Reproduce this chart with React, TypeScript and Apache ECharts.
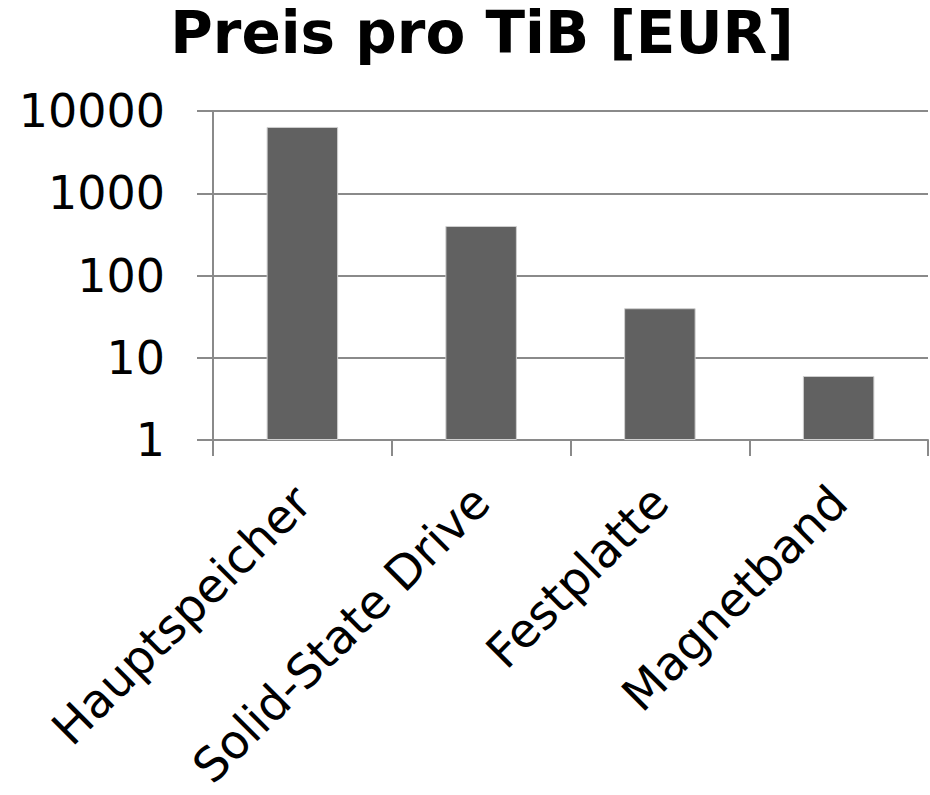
import React, { useEffect, useRef } from "react";
import * as echarts from "echarts";

const categories = ["Hauptspeicher", "Solid-State Drive", "Festplatte", "Magnetband"];
const prices = [6400, 400, 40, 6];
const titleText = "Preis pro TiB [EUR]";

export default function App() {
  const ref = useRef<HTMLDivElement>(null);
  useEffect(() => {
    document.body.style.margin = "0";
    const chart = echarts.init(ref.current!, null, { renderer: "svg" });
    const font = "DejaVu Sans, Verdana, sans-serif";
    chart.setOption({
      animation: false,
      backgroundColor: "#ffffff",
      title: {
        text: titleText,
        left: 477,
        textAlign: "center",
        top: -1,
        textStyle: { fontFamily: font, fontSize: 58, fontWeight: "bold", color: "#000" },
      },
      grid: { left: 213, right: 2, top: 111, bottom: 355, containLabel: false },
      xAxis: {
        type: "category",
        data: categories,
        axisLine: { lineStyle: { color: "#8a8a8a", width: 2 } },
        axisTick: { show: true, length: 16, lineStyle: { color: "#8a8a8a", width: 2 } },
        axisLabel: { rotate: 45, fontFamily: font, fontSize: 47, color: "#000", margin: 54, interval: 0 },
      },
      yAxis: {
        type: "log",
        logBase: 10,
        min: 1,
        max: 10000,
        axisLine: { show: true, lineStyle: { color: "#8a8a8a", width: 2 } },
        axisTick: { show: true, length: 16, lineStyle: { color: "#8a8a8a", width: 2 } },
        splitLine: { show: true, lineStyle: { color: "#8a8a8a", width: 2 } },
        axisLabel: {
          fontFamily: font,
          fontSize: 46,
          color: "#000",
          margin: 48,
          formatter: (v: number) => String(Math.round(v)),
        },
      },
      series: [
        {
          type: "bar",
          data: prices,
          barWidth: "40%",
          itemStyle: { color: "#616161", borderColor: "#cfcfcf", borderWidth: 1 },
        },
      ],
    });
    return () => chart.dispose();
  }, []);
  return <div ref={ref} style={{ width: 930, height: 795 }} />;
}
